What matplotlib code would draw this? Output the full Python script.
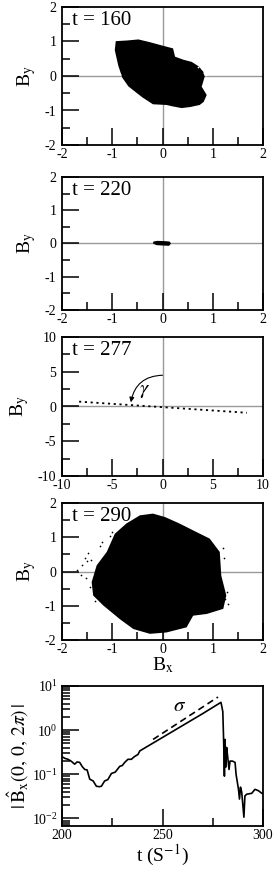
import numpy as np
import matplotlib
matplotlib.use('Agg')
import matplotlib.pyplot as plt
from matplotlib.ticker import MultipleLocator, LogLocator, NullFormatter

plt.rcParams['font.family'] = ['Liberation Serif', 'DejaVu Serif']
plt.rcParams['mathtext.fontset'] = 'stix'
plt.rcParams['axes.unicode_minus'] = False

# --- data ---
# t = 160: outline of the dense cloud (Bx, By)
cloud160_x = [-0.93, -0.70, -0.48, -0.25, -0.05, 0.21, 0.25, 0.42, 0.58, 0.72, 0.81, 0.84,
              0.78, 0.88, 0.82, 0.74, 0.55, 0.38, 0.20, 0.08, -0.19, -0.40, -0.55, -0.68, -0.80, -0.88, -0.95]
cloud160_y = [1.01, 1.03, 1.06, 0.98, 0.90, 0.80, 0.56, 0.47, 0.41, 0.28, 0.13, -0.02,
              -0.31, -0.55, -0.75, -0.84, -0.90, -0.93, -0.88, -0.84, -0.82, -0.62, -0.45, -0.30, -0.05, 0.30, 0.75]
stray160_x = [-0.92, -0.88, -0.84, -0.80, -0.76, -0.72, -0.66, -0.60, -0.52, 0.82, 0.78, 0.70, 0.86]
stray160_y = [0.35, 0.18, 0.05, -0.12, -0.22, -0.35, -0.42, -0.52, -0.62, 0.10, 0.20, 0.25, 0.02]

# t = 220: small blob near origin
blob220_x = [-0.18, -0.10, 0.05, 0.14, 0.17, 0.13, 0.00, -0.12, -0.19]
blob220_y = [0.06, 0.08, 0.07, 0.06, 0.00, -0.07, -0.06, -0.05, 0.00]

# t = 277: nearly straight line of points
line277_x = [-8.3, 8.4]
line277_y = [0.70, -0.90]
gamma_start = (0.0, 4.5)
gamma_end = (-3.15, 0.6)

# t = 290: outline of the dense cloud
cloud290_x = [-0.95, -0.72, -0.45, -0.19, 0.05, 0.34, 0.61, 0.94, 1.14, 1.17, 1.27, 1.21,
              0.88, 0.61, 0.48, 0.08, -0.25, -0.58, -0.85, -1.18, -1.38, -1.41, -1.31, -1.11]
cloud290_y = [1.10, 1.40, 1.64, 1.69, 1.59, 1.40, 1.20, 0.96, 0.57, -0.12, -0.70, -1.09,
              -1.24, -1.29, -1.63, -1.78, -1.82, -1.68, -1.39, -0.99, -0.70, -0.31, 0.18, 0.57]
stray290_x = [-1.70, -1.62, -1.55, -1.50, -1.45, -1.60, -1.52, -1.48, -1.25, -1.20, 1.25, 1.30,
              1.28, -1.05, -1.00, -1.35, -1.42, 1.20, 1.22]
stray290_y = [0.05, -0.10, 0.40, 0.30, -0.45, 0.20, -0.20, 0.55, 0.75, 0.85, -0.80, -0.95,
              -0.60, 1.05, 1.15, -0.85, 0.35, 0.70, 0.40]

# bottom panel: |B_x(0,0,2pi)| vs t
t_vals = [200.0, 201.5, 203.0, 204.5, 206.3, 207.5, 208.8, 210.0, 211.3, 212.5, 213.8, 215.5,
          217.1, 218.5, 219.6, 221.2, 222.8, 224.6, 226.5, 228.7, 230.0, 231.2, 232.8, 234.5,
          236.0, 237.8, 238.7, 250.0, 260.0, 270.0, 279.1, 280.0, 280.4, 280.8, 281.1, 281.4,
          281.9, 282.4, 283.1, 283.6, 284.8, 286.1, 286.6, 287.8, 288.3, 288.8, 289.4, 290.5,
          291.0, 291.9, 294.4, 296.0, 297.7, 299.4, 300.0]
logb_vals = [-0.60, -0.64, -0.66, -0.70, -0.77, -0.72, -0.73, -0.82, -0.89, -0.90, -1.11, -1.15,
             -1.27, -1.28, -1.27, -1.15, -1.12, -0.98, -0.95, -0.82, -0.80, -0.73, -0.66, -0.66,
             -0.60, -0.55, -0.47, -0.165, 0.105, 0.375, 0.63, 0.42, -0.21, -1.04, -0.21, -0.84,
             -0.39, -0.59, -0.89, -0.70, -0.70, -0.73, -1.00, -1.34, -1.56, -1.29, -1.40, -1.97,
             -1.49, -1.45, -1.43, -1.34, -1.37, -1.43, -1.43]
b_vals = [10 ** v for v in logb_vals]
sigma_t = [245.3, 277.6]
sigma_b = [10 ** -0.21, 10 ** 0.75]

W, H = 277, 872
fig = plt.figure(figsize=(W / 100, H / 100), dpi=100)

def box(top, bottom, left=62, right=263):
    return [left / W, 1 - bottom / H, (right - left) / W, (bottom - top) / H]

def style(ax, major, minor):
    ax.xaxis.set_major_locator(MultipleLocator(major))
    ax.xaxis.set_minor_locator(MultipleLocator(minor))
    ax.yaxis.set_major_locator(MultipleLocator(major))
    ax.yaxis.set_minor_locator(MultipleLocator(minor))
    ax.tick_params(which='both', direction='in', top=False, right=False, labelsize=10)
    ax.tick_params(which='major', length=12, width=1.1)
    ax.tick_params(which='minor', length=6, width=1.1)
    ax.tick_params(axis='y', pad=4)
    ax.tick_params(axis='x', pad=2)
    for s in ax.spines.values():
        s.set_linewidth(1.3)
    ax.axhline(0, color='#999999', lw=1, zorder=0)
    ax.axvline(0, color='#999999', lw=1, zorder=0)
    ax.set_ylabel(r'B$_{\mathrm{y}}$', fontsize=14, labelpad=5)

panels = [(7, 145), (177, 310), (337, 476), (503, 640), (686, 826)]

# t = 160
ax1 = fig.add_axes(box(*panels[0]))
ax1.fill(cloud160_x, cloud160_y, color='k', lw=0)
ax1.scatter(stray160_x, stray160_y, s=1.5, color='w', lw=0)
ax1.set_xlim(-2, 2)
ax1.set_ylim(-2, 2)
style(ax1, 1, 0.5)
ax1.text(0.05, 0.97, 't = 160', transform=ax1.transAxes, fontsize=15, va='top')

# t = 220
ax2 = fig.add_axes(box(*panels[1]))
ax2.fill(blob220_x, blob220_y, color='k', lw=0)
ax2.set_xlim(-2, 2)
ax2.set_ylim(-2, 2)
style(ax2, 1, 0.5)
ax2.text(0.05, 0.97, 't = 220', transform=ax2.transAxes, fontsize=15, va='top')

# t = 277
ax3 = fig.add_axes(box(*panels[2]))
ax3.plot(line277_x, line277_y, color='k', lw=1.3, ls=(0, (1.2, 2.0)))
ax3.annotate('', xy=gamma_end, xytext=gamma_start,
             arrowprops=dict(arrowstyle='-|>', color='k', lw=0.8, mutation_scale=7,
                             connectionstyle='arc3,rad=0.4', shrinkA=0, shrinkB=0))
ax3.text(-1.75, 2.3, r'$\gamma$', fontsize=15, ha='center', va='center')
ax3.set_xlim(-10, 10)
ax3.set_ylim(-10, 10)
style(ax3, 5, 2.5)
ax3.text(0.05, 0.97, 't = 277', transform=ax3.transAxes, fontsize=15, va='top')

# t = 290
ax4 = fig.add_axes(box(*panels[3]))
ax4.fill(cloud290_x, cloud290_y, color='k', lw=0)
ax4.scatter(stray290_x, stray290_y, s=1.5, color='k', lw=0)
ax4.set_xlim(-2, 2)
ax4.set_ylim(-2, 2)
style(ax4, 1, 0.5)
ax4.text(0.05, 0.97, 't = 290', transform=ax4.transAxes, fontsize=15, va='top')
ax4.set_xlabel(r'B$_{\mathrm{x}}$', fontsize=14, labelpad=0)

# |B_x| vs t
ax5 = fig.add_axes(box(*panels[4]))
ax5.plot(t_vals, b_vals, color='k', lw=1.2)
ax5.plot(sigma_t, sigma_b, color='k', lw=1.2, ls=(0, (4, 2.5)))
ax5.text(258.7, 10 ** 0.54, r'$\sigma$', fontsize=15, ha='center', va='center')
ax5.set_yscale('log')
ax5.set_xlim(200, 300)
ax5.set_ylim(10 ** -2.17, 10)
ax5.xaxis.set_major_locator(MultipleLocator(50))
ax5.xaxis.set_minor_locator(MultipleLocator(25))
ax5.yaxis.set_major_locator(LogLocator(base=10, numticks=10))
ax5.yaxis.set_minor_locator(LogLocator(base=10, subs=np.arange(2, 10), numticks=10))
ax5.yaxis.set_minor_formatter(NullFormatter())
ax5.tick_params(which='both', direction='in', top=False, right=False, labelsize=10)
ax5.tick_params(which='major', length=12, width=1.1)
ax5.tick_params(which='minor', length=6, width=1.1)
ax5.tick_params(axis='y', pad=3)
ax5.tick_params(axis='x', pad=2)
for s in ax5.spines.values():
    s.set_linewidth(1.3)
ax5.set_ylabel(r'$|\,\hat{\mathrm{B}}_{\mathrm{x}}(0,\,0,\,2\pi)\,|$', fontsize=14, labelpad=1)
ax5.set_xlabel(r't (S$^{-1}$)', fontsize=14, labelpad=1)

fig.savefig('out.png', dpi=100)
